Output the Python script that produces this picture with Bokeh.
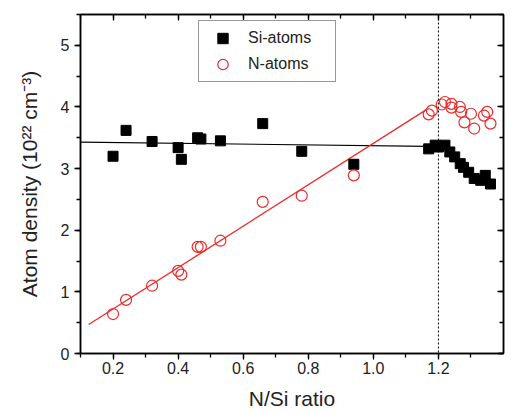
from bokeh.plotting import figure
from bokeh.models import LinearAxis, Range1d, Span, Legend, LegendItem, SingleIntervalTicker
from bokeh.embed import file_html
from bokeh.resources import INLINE

# Si atom density (1e22 cm^-3) vs N/Si ratio
si_x = [0.20, 0.24, 0.32, 0.40, 0.41, 0.46, 0.47, 0.53, 0.66, 0.78, 0.94,
        1.17, 1.19, 1.20, 1.22, 1.235, 1.25, 1.267, 1.277, 1.293, 1.31, 1.33, 1.344, 1.36]
si_y = [3.20, 3.62, 3.44, 3.34, 3.15, 3.50, 3.48, 3.45, 3.73, 3.28, 3.07,
        3.32, 3.38, 3.35, 3.38, 3.27, 3.19, 3.08, 3.02, 2.94, 2.84, 2.81, 2.89, 2.75]

# N atom density
n_x = [0.20, 0.24, 0.32, 0.40, 0.41, 0.46, 0.47, 0.53, 0.66, 0.78, 0.94,
       1.17, 1.18, 1.21, 1.22, 1.24, 1.24, 1.266, 1.27, 1.28, 1.30, 1.31, 1.34, 1.35, 1.36]
n_y = [0.64, 0.87, 1.10, 1.34, 1.28, 1.73, 1.73, 1.83, 2.46, 2.56, 2.89,
       3.88, 3.94, 4.04, 4.08, 3.99, 4.05, 4.00, 3.92, 3.75, 3.89, 3.65, 3.86, 3.92, 3.73]

# linear fits
si_fit_x = [0.10, 1.17]
si_fit_y = [3.43, 3.36]
n_fit_x = [0.125, 1.163]
n_fit_y = [0.47, 3.956]

stoich_x = 1.2

x_ticks = [0.2, 0.4, 0.6, 0.8, 1.0, 1.2, 1.4]
y_ticks = [0, 1, 2, 3, 4, 5]

FONT = "Liberation Sans"
TXT = "#222222"
RED = "#ee2a2a"

p = figure(width=516, height=414, output_backend="svg", toolbar_location=None,
           x_range=Range1d(0.1, 1.4), y_range=Range1d(0, 5.5),
           min_border_left=80, min_border_right=13, min_border_top=14, min_border_bottom=61,
           x_axis_label="N/Si ratio", y_axis_label="Atom density (10²² cm⁻³)")
p.grid.visible = False
p.outline_line_color = "black"
p.outline_line_width = 1.5
p.background_fill_color = "white"
p.border_fill_color = "white"

for ax in p.xaxis + p.yaxis:
    ax.axis_line_width = 1.5
    ax.major_tick_line_width = 1.3
    ax.minor_tick_line_width = 1.3
    ax.major_tick_in = 0
    ax.major_tick_out = 6
    ax.minor_tick_in = 0
    ax.minor_tick_out = 4
    ax.major_label_text_font = FONT
    ax.major_label_text_font_size = "16px"
    ax.major_label_text_color = TXT
    ax.axis_label_text_font = FONT
    ax.axis_label_text_font_size = "21px"
    ax.axis_label_text_font_style = "normal"
    ax.axis_label_text_color = TXT

p.xaxis.ticker = SingleIntervalTicker(interval=0.2, num_minor_ticks=2)
p.xaxis.major_label_overrides = {x: f"{x:.1f}" for x in x_ticks}
p.yaxis.ticker = SingleIntervalTicker(interval=1, num_minor_ticks=2)
p.xaxis.major_label_standoff = 2
p.xaxis.axis_label_standoff = 10
p.yaxis.major_label_standoff = 5
p.yaxis.axis_label_standoff = 17

# mirrored axes with inward ticks
top = LinearAxis(ticker=SingleIntervalTicker(interval=0.2, num_minor_ticks=2))
right = LinearAxis(ticker=SingleIntervalTicker(interval=1, num_minor_ticks=2))
for ax in (top, right):
    ax.axis_line_width = 1.5
    ax.major_tick_line_width = 1.3
    ax.minor_tick_line_width = 1.3
    ax.major_tick_in = 6
    ax.major_tick_out = 0
    ax.minor_tick_in = 4
    ax.minor_tick_out = 0
    ax.major_label_text_font_size = "0px"
    ax.major_label_text_color = None
    ax.major_label_standoff = 0
p.add_layout(top, "above")
p.add_layout(right, "right")

p.add_layout(Span(location=stoich_x, dimension="height", line_color="black",
                  line_dash="2 2", line_width=1))

p.line(si_fit_x, si_fit_y, line_color="black", line_width=1.2)
p.line(n_fit_x, n_fit_y, line_color=RED, line_width=1.3)

r_si = p.scatter(si_x, si_y, marker="square", size=10, fill_color="black", line_color="black")
r_n = p.scatter(n_x, n_y, marker="circle", size=11, fill_color=None, line_color=RED, line_width=1.2)

legend = Legend(items=[LegendItem(label="Si-atoms", renderers=[r_si]),
                       LegendItem(label="N-atoms", renderers=[r_n])],
                location=(118, 271), padding=4, glyph_width=39, glyph_height=26,
                label_height=26, spacing=0, label_standoff=6, label_width=83,
                label_text_font=FONT, label_text_font_size="16px", label_text_color=TXT,
                border_line_color="#333333", border_line_width=1.2,
                background_fill_alpha=1.0, margin=0)
p.add_layout(legend, "center")

open("out.html", "w").write(file_html(p, INLINE))
